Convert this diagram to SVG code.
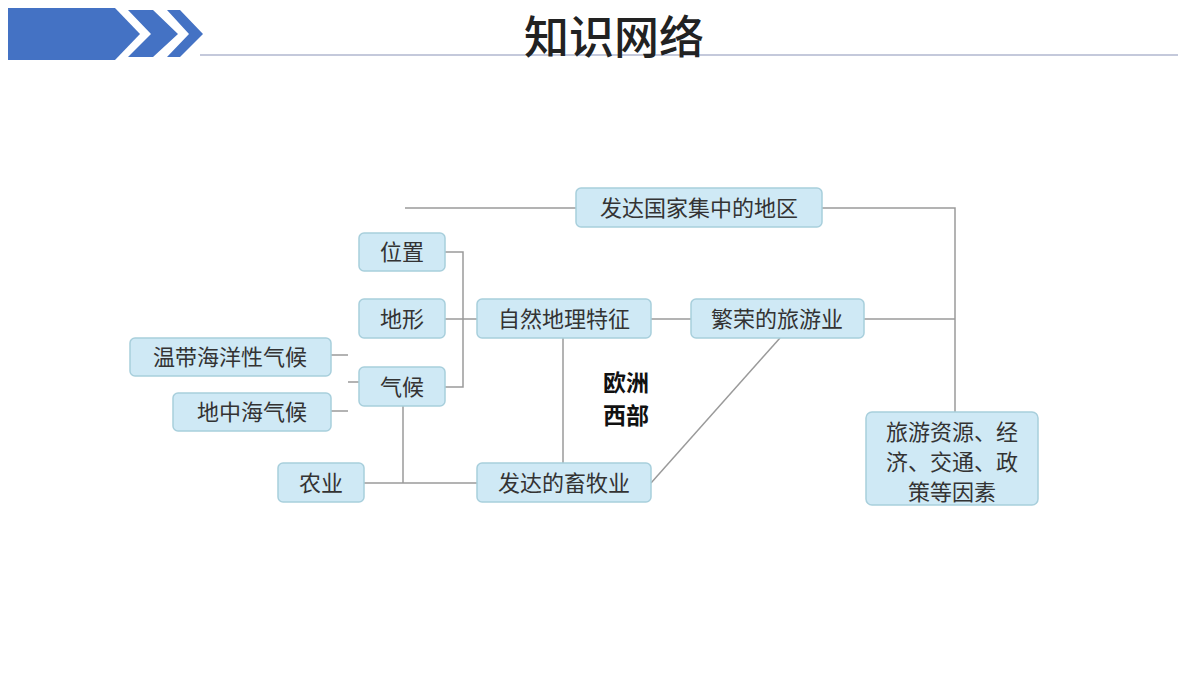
<svg xmlns="http://www.w3.org/2000/svg" width="1200" height="675" viewBox="0 0 1200 675">
<style>
.n rect{fill:#cfe9f5;stroke:#a8cfdc;stroke-width:1.5}
.n text{font-family:"Noto Sans CJK SC",sans-serif;font-size:22px;fill:#333;text-anchor:middle}
#c line,#c polyline{stroke:#9a9a9a;stroke-width:1.5;fill:none}
</style>
<rect width="1200" height="675" fill="#fff"/>
<g id="header">
<polygon points="8,8 115,8 140,34 115,60 8,60" fill="#4472c4"/>
<polygon points="128,10 153,10 178,34 153,57 128,57 151,34" fill="#4472c4"/>
<polygon points="167,10 180,10 203,34 180,57 167,57 189,34" fill="#4472c4"/>
<line x1="200" y1="55" x2="1178" y2="55" stroke="#8a93b8" stroke-width="1.2"/>
<text x="614" y="54" font-family="Noto Sans CJK SC,sans-serif" font-size="45" font-weight="500" fill="#222" text-anchor="middle">知识网络</text>
</g>
<g id="c">
<line x1="405" y1="208" x2="576" y2="208"/>
<polyline points="822,208 955,208 955,412"/>
<line x1="864" y1="319" x2="955" y2="319"/>
<polyline points="445,252 463,252 463,387 445,387"/>
<line x1="445" y1="319" x2="477" y2="319"/>
<line x1="651" y1="319" x2="691" y2="319"/>
<line x1="331" y1="355" x2="348" y2="355"/>
<line x1="348" y1="382" x2="359" y2="382"/>
<line x1="331" y1="411" x2="348" y2="411"/>
<line x1="403" y1="406" x2="403" y2="483"/>
<line x1="364" y1="483" x2="477" y2="483"/>
<line x1="563" y1="338" x2="563" y2="463"/>
<line x1="651" y1="483" x2="780" y2="338"/>
</g>
<g id="n1" class="n"><rect x="576" y="188" width="246" height="39" rx="5"/><text x="699" y="216">发达国家集中的地区</text></g>
<g id="n2" class="n"><rect x="359" y="233" width="86" height="38" rx="5"/><text x="402" y="260">位置</text></g>
<g id="n3" class="n"><rect x="359" y="299" width="86" height="39" rx="5"/><text x="402" y="327">地形</text></g>
<g id="n4" class="n"><rect x="477" y="299" width="174" height="39" rx="5"/><text x="564" y="327">自然地理特征</text></g>
<g id="n5" class="n"><rect x="691" y="299" width="173" height="39" rx="5"/><text x="777" y="327">繁荣的旅游业</text></g>
<g id="n6" class="n"><rect x="130" y="338" width="201" height="38" rx="5"/><text x="230" y="365">温带海洋性气候</text></g>
<g id="n7" class="n"><rect x="359" y="367" width="86" height="39" rx="5"/><text x="402" y="395">气候</text></g>
<g id="n8" class="n"><rect x="173" y="393" width="158" height="38" rx="5"/><text x="252" y="420">地中海气候</text></g>
<g id="n9" class="n"><rect x="278" y="463" width="86" height="39" rx="5"/><text x="321" y="491">农业</text></g>
<g id="n10" class="n"><rect x="477" y="463" width="174" height="39" rx="5"/><text x="564" y="491">发达的畜牧业</text></g>
<g id="n11" class="n"><rect x="866" y="412" width="172" height="93" rx="6"/><text x="952" y="440">旅游资源、经</text><text x="952" y="470">济、交通、政</text><text x="952" y="500">策等因素</text></g>
<g id="center"><text x="626" y="391" font-family="Noto Sans CJK SC,sans-serif" font-size="23" font-weight="bold" fill="#111" text-anchor="middle">欧洲</text><text x="626" y="424" font-family="Noto Sans CJK SC,sans-serif" font-size="23" font-weight="bold" fill="#111" text-anchor="middle">西部</text></g>
</svg>
